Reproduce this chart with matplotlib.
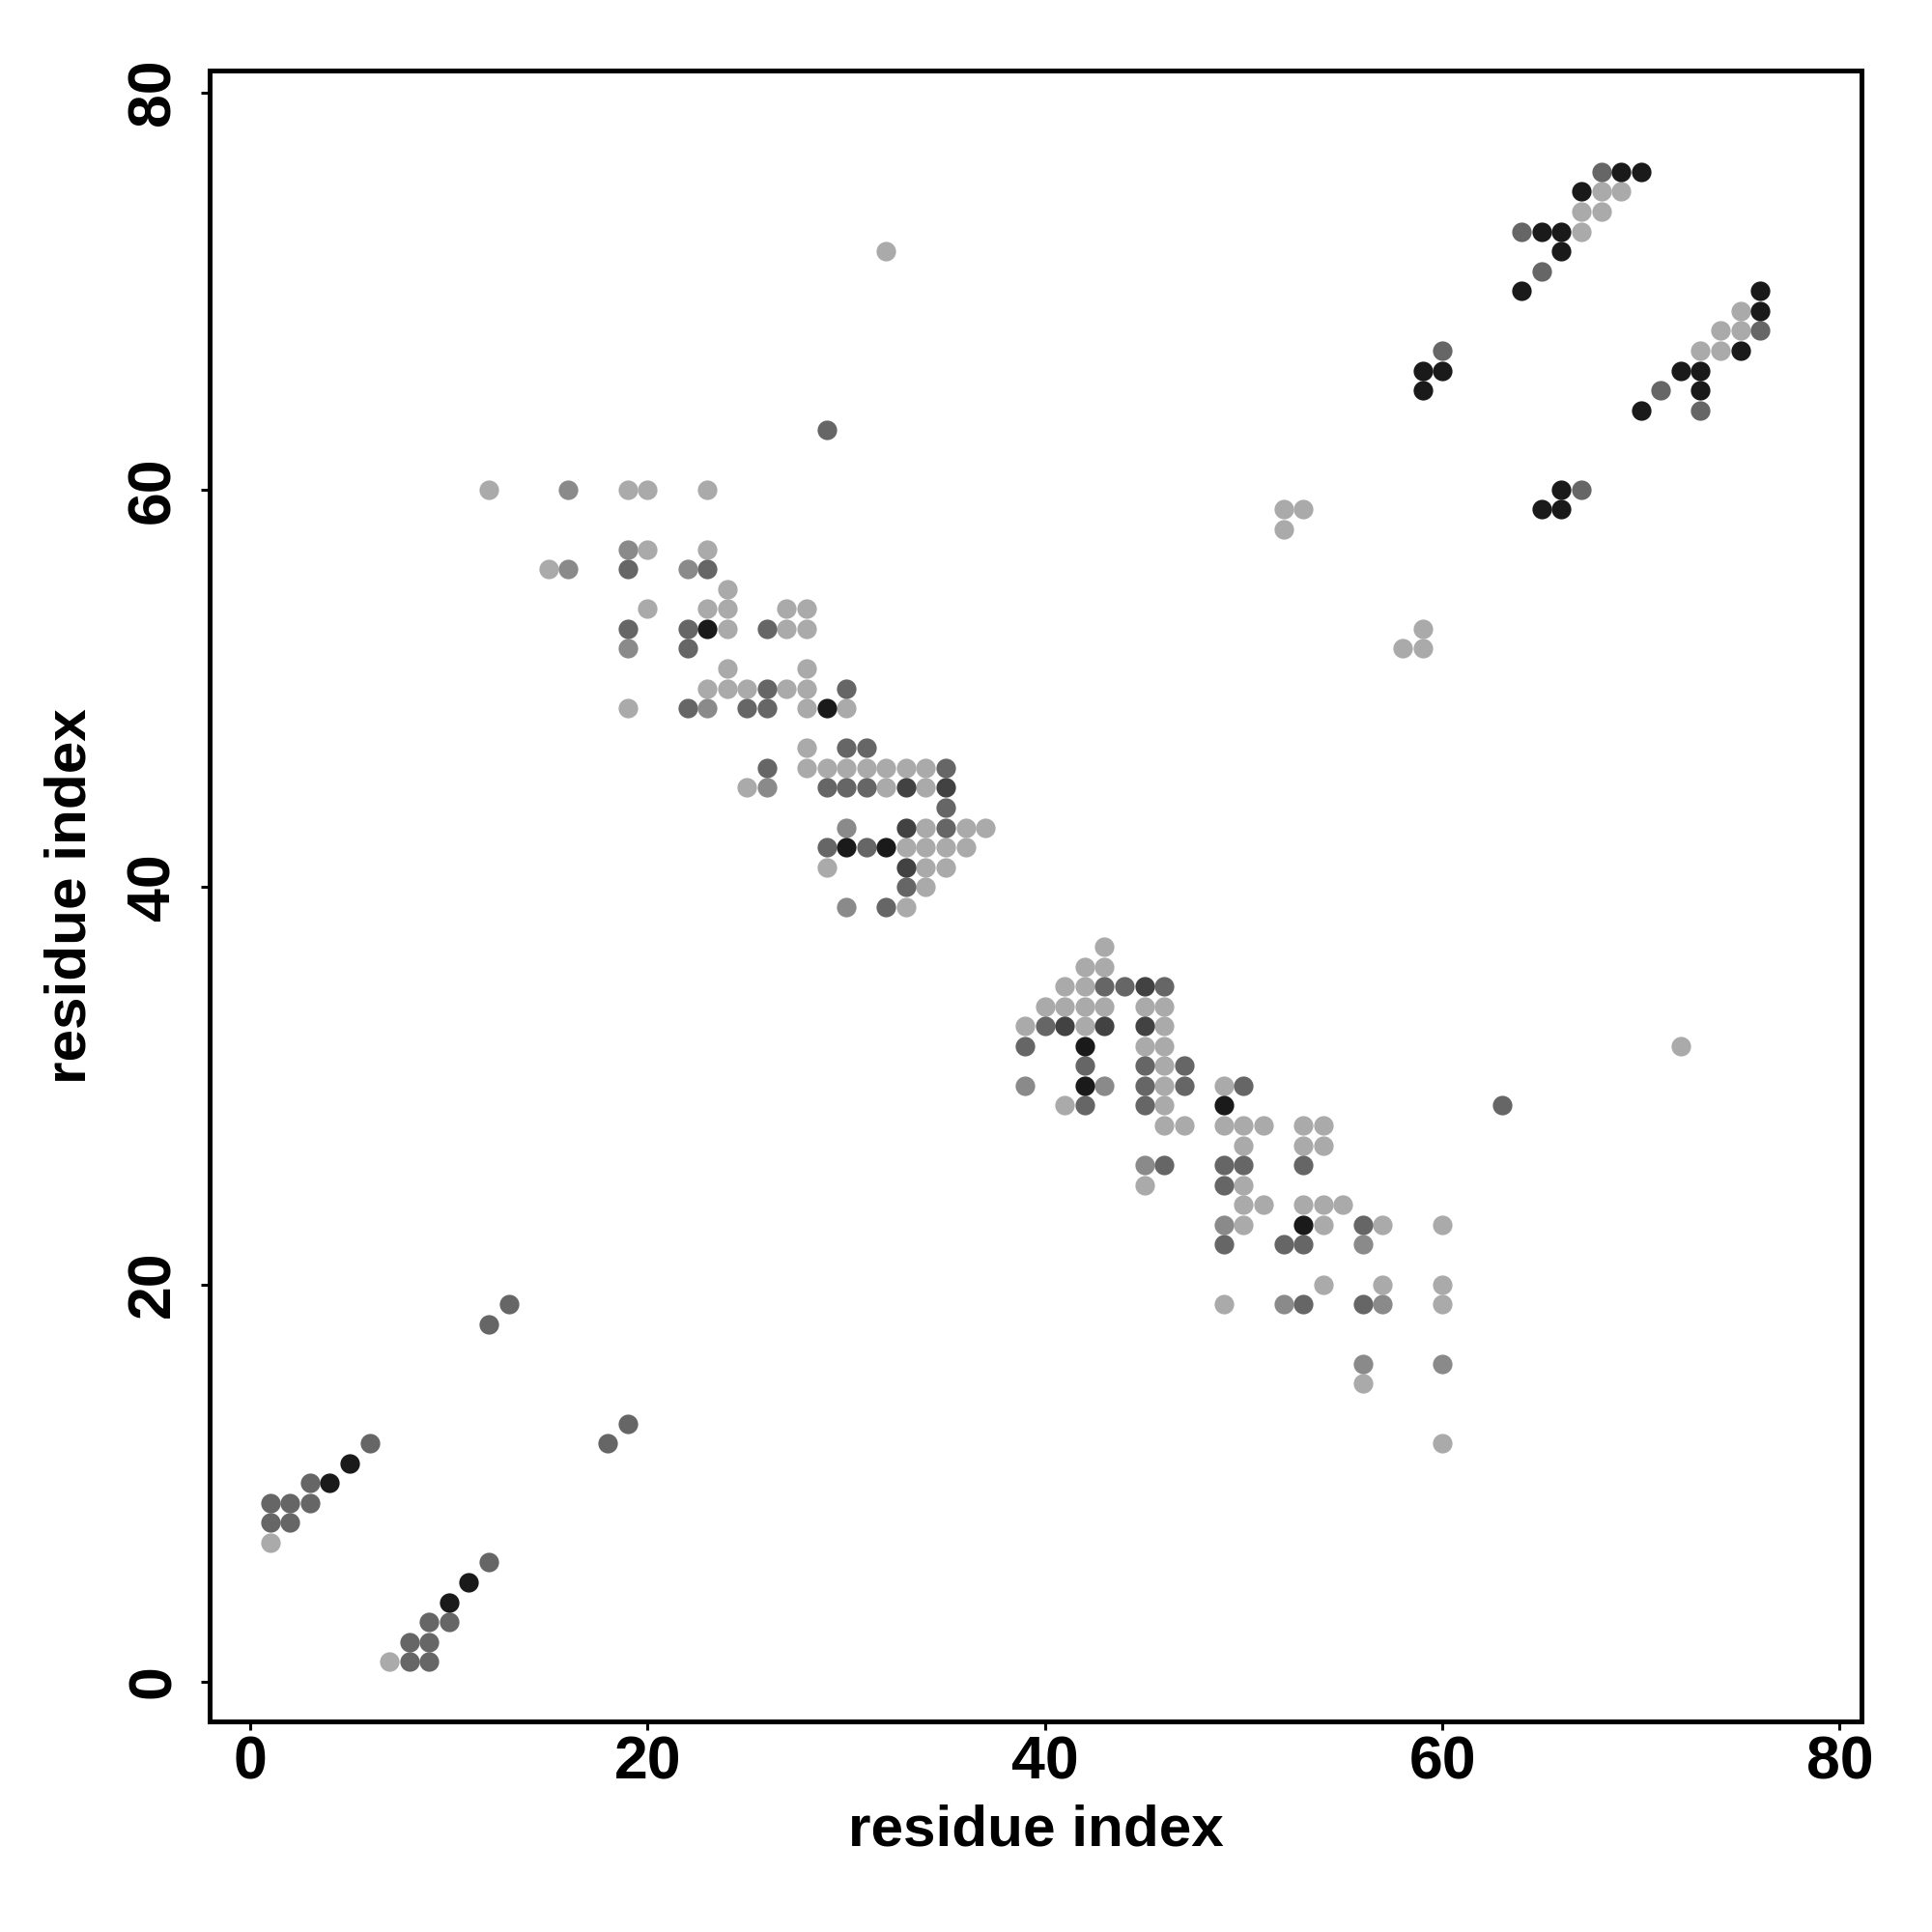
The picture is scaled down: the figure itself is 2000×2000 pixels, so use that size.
import matplotlib
matplotlib.use('Agg')
import matplotlib.pyplot as plt

plt.rcParams['font.family'] = ['Liberation Sans', 'DejaVu Sans']
plt.rcParams['font.weight'] = 'bold'

# Contact pairs (i < j); the map is symmetric so each pair is drawn at (i, j) and (j, i)
LIGHT_I = [1, 12, 19, 20, 23, 20, 23, 15, 24, 20, 23, 24, 27, 28, 24, 27, 28, 24, 28,
           23, 24, 25, 27, 28, 19, 28, 30, 28, 28, 29, 30, 31, 32, 33, 34, 25, 32, 34,
           34, 36, 37, 33, 34, 35, 36, 29, 34, 35, 34, 33, 32, 52, 52, 53, 67, 67, 68,
           68, 69]
LIGHT_J = [7, 60, 60, 60, 60, 57, 57, 56, 55, 54, 54, 54, 54, 54, 53, 53, 53, 51, 51,
           50, 50, 50, 50, 50, 49, 49, 49, 47, 46, 46, 46, 46, 46, 46, 46, 45, 45, 45,
           43, 43, 43, 42, 42, 42, 42, 41, 41, 41, 40, 39, 72, 58, 59, 59, 73, 74, 74,
           75, 75]

MEDIUM_I = [16, 19, 16, 22, 19, 23, 26, 30, 30]
MEDIUM_J = [60, 57, 56, 56, 52, 49, 45, 43, 39]

DARK_I = [1, 2, 1, 2, 3, 3, 6, 12, 13, 19, 23, 19, 22, 26, 22, 26, 30, 22, 25, 26,
          30, 31, 26, 35, 29, 30, 31, 35, 35, 29, 31, 33, 32, 29, 60, 68, 64, 65]
DARK_J = [8, 8, 9, 9, 9, 10, 12, 18, 19, 56, 56, 53, 53, 53, 52, 50, 50, 49, 49, 49,
          47, 47, 46, 46, 45, 45, 45, 44, 43, 42, 42, 40, 39, 63, 67, 76, 73, 71]

DARKER_I = [33, 35, 33, 33]
DARKER_J = [45, 45, 43, 41]

BLACK_I = [4, 5, 23, 29, 30, 32, 59, 59, 60, 69, 70, 67, 65, 66, 66, 64]
BLACK_J = [10, 11, 53, 49, 42, 42, 65, 66, 66, 76, 76, 75, 73, 73, 72, 70]

SHADES = [
    (LIGHT_I, LIGHT_J, '#aaaaaa'),
    (MEDIUM_I, MEDIUM_J, '#8a8a8a'),
    (DARK_I, DARK_J, '#666666'),
    (DARKER_I, DARKER_J, '#424242'),
    (BLACK_I, BLACK_J, '#1a1a1a'),
]
TICKS = [0, 20, 40, 60, 80]

fig = plt.figure(figsize=(10, 10), dpi=200)
ax = fig.add_axes([0.1085, 0.109, 0.855, 0.8545])

for xi, yj, col in SHADES:
    ax.scatter(xi, yj, s=53, color=col, linewidths=0, zorder=3)
    ax.scatter(yj, xi, s=53, color=col, linewidths=0, zorder=3)

ax.set_xlim(-2.05, 81.1)
ax.set_ylim(-2.0, 81.1)
ax.set_xticks(TICKS)
ax.set_yticks(TICKS)
ax.tick_params(axis='both', direction='out', length=3.2, width=1.1,
               labelsize=22.5, pad=1.5)
ax.tick_params(axis='y', pad=7)
plt.setp(ax.get_yticklabels(), rotation=90, va='center')
for sp in ax.spines.values():
    sp.set_linewidth(1.8)

ax.set_xlabel('residue index', fontsize=21.7, fontweight='bold')
ax.set_ylabel('residue index', fontsize=21.7, fontweight='bold')
ax.xaxis.set_label_coords(0.5, -0.050)
ax.yaxis.set_label_coords(-0.068, 0.5)

fig.savefig('out.png', dpi=200)
